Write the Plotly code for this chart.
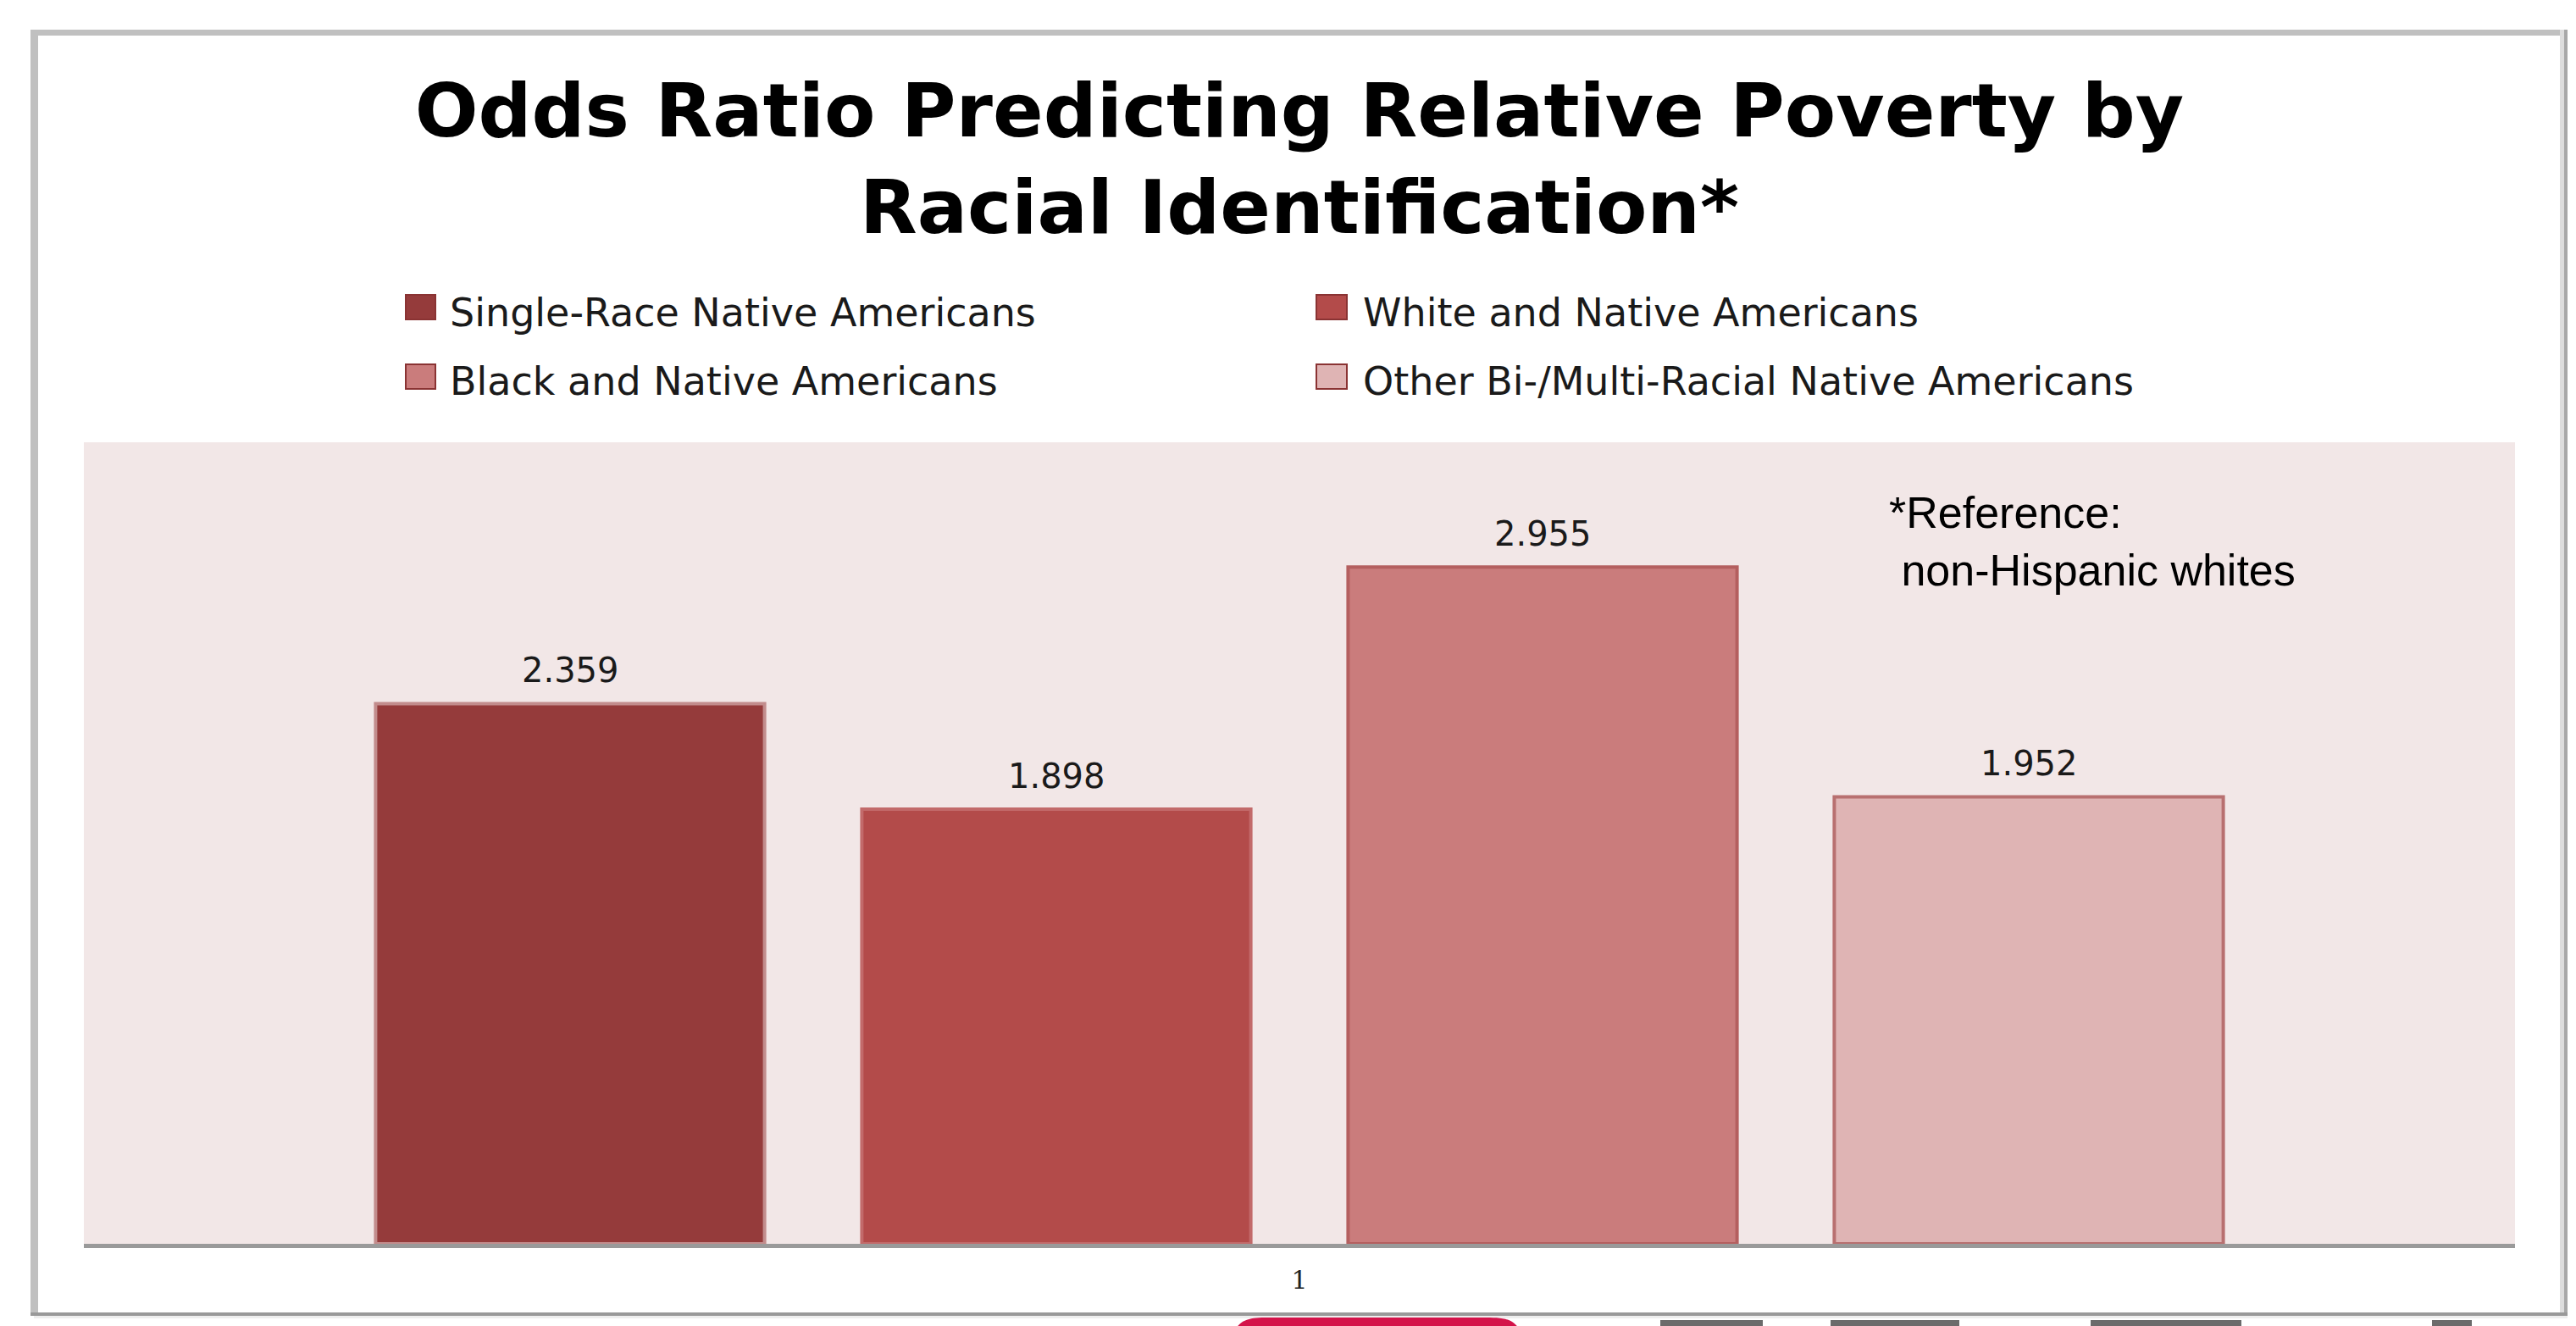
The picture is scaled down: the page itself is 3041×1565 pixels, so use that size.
import plotly.graph_objects as go

# ---- data ----
categories = ["1"]
series_names = [
    "Single-Race Native Americans",
    "White and Native Americans",
    "Black and Native Americans",
    "Other Bi-/Multi-Racial Native Americans",
]
series_values = [2.359, 1.898, 2.955, 1.952]
bar_colors = ["#953B3B", "#B34B4A", "#CA7C7C", "#DFB4B4"]
bar_edges = ["#C28C8C", "#C26A6A", "#B45F5F", "#B87070"]
title_text = "Odds Ratio Predicting Relative Poverty by<br>Racial Identification*"
note_text = "*Reference:<br>\u00a0non-Hispanic whites"

# ---- layout geometry (screen pixels; page body adds an 8px offset) ----
W, H = 3041, 1565
OFF = 8
PL, PR, PT, PB = 99, 2969, 522, 1468
BARGAP, GROUPGAP = 0.2, 0.2


def px2x(px):
    return (px - PL) / (PR - PL)


def px2y(py):
    return (PB - py) / (PB - PT)


fig = go.Figure()
for name, val, col, edge in zip(series_names, series_values, bar_colors, bar_edges):
    fig.add_trace(go.Bar(
        x=categories, y=[val], name=name,
        marker=dict(color=col, line=dict(color=edge, width=4)),
        showlegend=False,
    ))

shapes = []
annotations = []

# value labels above bars (anchored on the category, offset by the bar slot)
n = len(series_values)
slot = (PR - PL) * (1 - BARGAP) / n
cat_index = categories.index("1")
for i, val in enumerate(series_values):
    annotations.append(dict(
        x=cat_index, y=val, xref="x", yref="y",
        text=f"{val:.3f}", showarrow=False,
        xanchor="center", yanchor="bottom",
        xshift=(i - (n - 1) / 2) * slot, yshift=14,
        font=dict(family="DejaVu Sans", size=40, color="#1a1a1a")))

# manual legend (2 x 2)
leg_cols = [(479, 514, 529), (1554, 1590, 1607)]
leg_rows = [(348, 377, 369), (430, 459, 450)]
for i, (name, col) in enumerate(zip(series_names, bar_colors)):
    r, c = divmod(i, 2)
    x0, x1, xt = leg_cols[c]
    y0, y1, yt = leg_rows[r]
    shapes.append(dict(type="rect", xref="paper", yref="paper",
                       x0=px2x(x0), x1=px2x(x1), y0=px2y(y1), y1=px2y(y0),
                       fillcolor=col, line=dict(color="#8A3333", width=2)))
    annotations.append(dict(text=name, xref="paper", yref="paper",
                            x=px2x(xt), y=px2y(yt), xanchor="left", yanchor="middle",
                            showarrow=False,
                            font=dict(family="DejaVu Sans", size=46, color="#1a1a1a")))

# reference note
annotations.append(dict(text=note_text, xref="paper", yref="paper",
                        x=px2x(2228), y=px2y(574), xanchor="left", yanchor="top",
                        align="left", showarrow=False,
                        font=dict(family="Liberation Sans, Arial", size=52, color="#000000")))

# outer frame
shapes += [
    dict(type="line", xref="paper", yref="paper", x0=px2x(36), x1=px2x(3031),
         y0=px2y(38.5), y1=px2y(38.5), line=dict(color="#C0C0C0", width=7)),
    dict(type="line", xref="paper", yref="paper", x0=px2x(40.5), x1=px2x(40.5),
         y0=px2y(35), y1=px2y(1553), line=dict(color="#C0C0C0", width=9)),
    dict(type="line", xref="paper", yref="paper", x0=px2x(3024.5), x1=px2x(3024.5),
         y0=px2y(35), y1=px2y(1553), line=dict(color="#DDDDDD", width=5)),
    dict(type="line", xref="paper", yref="paper", x0=px2x(3029), x1=px2x(3029),
         y0=px2y(35), y1=px2y(1553), line=dict(color="#A8A8A8", width=4)),
    dict(type="line", xref="paper", yref="paper", x0=px2x(36), x1=px2x(3031),
         y0=px2y(1551), y1=px2y(1551), line=dict(color="#999999", width=4)),
    dict(type="line", xref="paper", yref="paper", x0=px2x(40), x1=px2x(3031),
         y0=px2y(1554.5), y1=px2y(1554.5), line=dict(color="#EEEEEE", width=3)),
]

# slide-control remnants under the frame
red_path = "M {a},{b} C {c},{d} {e},{d} {f},{d} L {g},{d} C {h},{d} {i},{d} {j},{b} Z".format(
    a=px2x(1458), b=px2y(1570), c=px2x(1466), d=px2y(1555), e=px2x(1480),
    f=px2x(1500), g=px2x(1750), h=px2x(1772), i=px2x(1786), j=px2x(1794))
shapes.append(dict(type="path", xref="paper", yref="paper", path=red_path,
                   fillcolor="#D4134A", line=dict(width=0)))
for gx0, gx1 in [(1960, 2081), (2161, 2313), (2468, 2646), (2871, 2918)]:
    shapes.append(dict(type="rect", xref="paper", yref="paper",
                       x0=px2x(gx0), x1=px2x(gx1), y0=px2y(1570), y1=px2y(1558),
                       fillcolor="#6B6B6B", line=dict(width=0)))

fig.update_layout(
    width=W, height=H,
    margin=dict(l=PL - OFF, r=W - (PR - OFF), t=PT - OFF, b=H - (PB - OFF), pad=0),
    paper_bgcolor="#FFFFFF", plot_bgcolor="#F2E7E7",
    barmode="group", bargap=BARGAP, bargroupgap=GROUPGAP,
    title=dict(text=title_text, x=0.5, xref="paper", xanchor="center",
               y=1 - 153 / H, yref="container", yanchor="top",
               font=dict(family="DejaVu Sans", size=88, color="#000000", weight="bold")),
    xaxis=dict(type="category", range=[-0.5, 0.5], showgrid=False,
               showline=True, linecolor="#9A9A9A", linewidth=5,
               ticks="", ticklabelstandoff=12,
               tickfont=dict(family="DejaVu Serif", size=30, color="#222222"),
               fixedrange=True),
    yaxis=dict(range=[0, 3.5], visible=False, showgrid=False, zeroline=False),
    showlegend=False,
    shapes=shapes, annotations=annotations,
)

fig.write_html("out.html")
